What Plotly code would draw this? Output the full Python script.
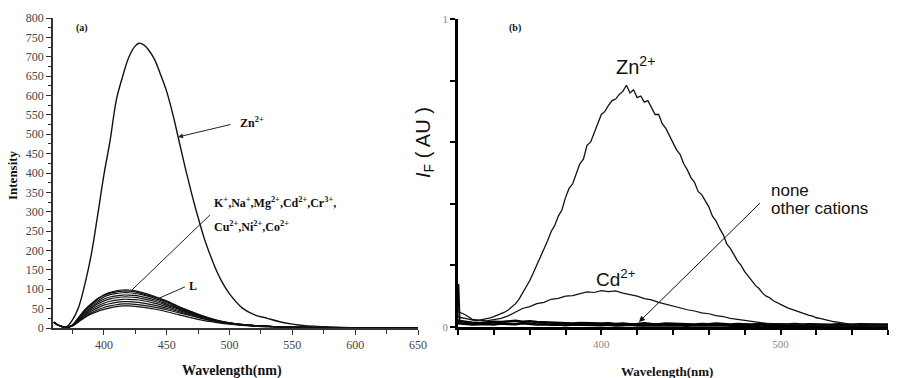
import plotly.graph_objects as go

# ---------------- Panel (a) data ----------------
WL_A = [360, 365, 370, 375, 380, 385, 390, 395, 400, 405, 410, 415, 420, 425, 430,
        440, 450, 460, 470, 480, 490, 500, 520, 540, 560, 580, 600, 650]
C1 = [15, 5, 2, 8, 28, 48, 63, 76, 86, 92, 96, 98, 98, 96, 92, 82, 70, 55, 42, 30, 20, 13, 6, 3, 1.5, 1, 0.5, 0]
C2 = [15, 5, 2, 8, 27, 46, 61, 74, 84, 90, 93, 95, 95, 93, 89, 80, 68, 54, 41, 29, 20, 13, 6, 3, 1.5, 1, 0.5, 0]
C3 = [15, 5, 2, 7, 25, 44, 58, 70, 80, 86, 89, 91, 91, 89, 86, 77, 65, 52, 40, 29, 19, 13, 6, 3, 1.5, 1, 0.5, 0]
C4 = [15, 5, 2, 7, 24, 41, 54, 66, 75, 80, 83, 85, 85, 84, 81, 73, 62, 50, 38, 28, 19, 12, 6, 3, 1.5, 1, 0.5, 0]
C5 = [15, 5, 2, 7, 22, 38, 51, 62, 70, 75, 78, 80, 80, 79, 76, 69, 59, 48, 37, 27, 18, 12, 6, 3, 1.5, 1, 0.5, 0]
C6 = [15, 5, 2, 6, 20, 35, 47, 57, 64, 69, 72, 74, 74, 73, 71, 64, 55, 45, 35, 26, 18, 12, 6, 3, 1.5, 1, 0.5, 0]
C7 = [15, 5, 2, 6, 19, 32, 43, 52, 59, 63, 66, 68, 68, 67, 65, 59, 51, 42, 33, 25, 17, 11, 5, 3, 1.5, 1, 0.5, 0]
C8 = [15, 5, 2, 6, 17, 29, 39, 47, 53, 57, 60, 62, 62, 61, 59, 54, 47, 39, 31, 23, 16, 11, 5, 3, 1.5, 1, 0.5, 0]
C9 = [15, 5, 2, 5, 16, 27, 36, 43, 48, 52, 55, 57, 57, 56, 54, 49, 42, 34, 26, 19, 14, 10, 5, 3, 1.5, 1, 0.5, 0]
SMALL_CURVES = [C1, C2, C3, C4, C5, C6, C7, C8, C9]

ZN_A_WL = [360, 365, 370, 375, 380, 385, 390, 395, 400, 405, 410, 415, 420, 425, 428, 432, 435,
           440, 445, 450, 455, 460, 465, 470, 475, 480, 485, 490, 495, 500, 510, 520, 530,
           540, 550, 560, 570, 580, 600, 625, 650]
ZN_A = [15, 6, 3, 21, 55, 115, 190, 290, 395, 485, 590, 650, 700, 728, 735, 730, 720,
        695, 655, 610, 550, 480, 410, 345, 285, 230, 185, 145, 113, 88, 52, 34, 25,
        16, 10, 6, 4, 3, 1, 0.5, 0]

A_XTICKS = [400, 450, 500, 550, 600, 650]

# ---------------- Panel (b) data ----------------
WL_B = list(range(320, 561, 2))
ZN_B = [.035, .03, .028, .025, .022, .02, .022, .024, .026, .03,
        .034, .038, .042, .048, .055, .065, .075, .09, .11, .13,
        .15, .175, .2, .225, .25, .28, .31, .33, .36, .38,
        .42, .45, .465, .5, .53, .545, .59, .6, .63, .655,
        .69, .7, .72, .735, .74, .755, .765, .785, .76, .77,
        .745, .75, .73, .735, .71, .69, .69, .66, .645, .62,
        .6, .575, .56, .53, .51, .485, .47, .44, .43, .41,
        .39, .36, .345, .32, .3, .27, .255, .235, .215, .2,
        .18, .165, .15, .135, .125, .11, .1, .095, .085, .08,
        .075, .068, .062, .058, .052, .05, .046, .042, .038, .035,
        .03, .028, .025, .022, .02, .017, .016, .013, .012, .01,
        .009, .008, .008, .007, .006, .006, .005, .005, .004, .004,
        .004]

WL_C = list(range(320, 561, 4))
CD_B = [.05, .04, .025, .022, .02, .024, .028, .036, .048, .06,
        .066, .076, .08, .09, .093, .1, .102, .108, .114, .112,
        .118, .115, .117, .11, .106, .1, .092, .088, .08, .074,
        .066, .062, .056, .052, .046, .043, .037, .034, .028, .025,
        .021, .018, .015, .012, .011, .009, .008, .007, .006, .005,
        .005, .004, .004, .003, .003, .003, .002, .002, .002, .002,
        .002]
BASE1 = [.02, .016, .014, .013, .015, .017, .016, .018, .02, .017,
         .019, .016, .015, .013, .014, .012, .011, .013, .012, .01,
         .011, .012, .01, .011, .009, .01, .012, .01, .009, .011,
         .01, .009, .01, .008, .01, .009, .011, .009, .008, .01,
         .009, .008, .01, .009, .008, .009, .008, .01, .008, .009,
         .008, .009, .007, .009, .008, .007, .009, .008, .007, .008,
         .008]
BASE2 = [.012, .01, .008, .009, .01, .008, .011, .01, .009, .012,
         .01, .008, .009, .007, .008, .006, .008, .007, .006, .007,
         .006, .007, .005, .006, .007, .005, .006, .005, .006, .005,
         .006, .005, .004, .006, .005, .004, .005, .006, .004, .005,
         .004, .005, .004, .005, .004, .003, .005, .004, .003, .004,
         .003, .004, .003, .004, .003, .003, .004, .003, .003, .003,
         .003]
SPIKE_WL = [320.2, 320.5, 320.9]
SPIKE_V = [0.14, 0.06, 0.012]

B_XTICKS = list(range(320, 561, 20))
B_XTEXT = ["400" if v == 400 else ("500" if v == 500 else "") for v in B_XTICKS]
B_YTICKS = [0, 0.2, 0.4, 0.6, 0.8, 1.0]
B_YTEXT = ["0", "", "", "", "", "1"]

SERIF = "Liberation Serif"
SANS = "Liberation Sans"

fig = go.Figure()

for c in SMALL_CURVES:
    fig.add_trace(go.Scatter(x=WL_A, y=c, mode="lines", line=dict(color="#111", width=1.2, shape="spline"),
                             xaxis="x", yaxis="y", showlegend=False, hoverinfo="skip"))
fig.add_trace(go.Scatter(x=ZN_A_WL, y=ZN_A, mode="lines", line=dict(color="#111", width=1.4, shape="spline"),
                         xaxis="x", yaxis="y", showlegend=False))

fig.add_trace(go.Scatter(x=WL_C, y=BASE1, mode="lines", line=dict(color="#000", width=2.5),
                         xaxis="x2", yaxis="y2", showlegend=False))
fig.add_trace(go.Scatter(x=WL_C, y=BASE2, mode="lines", line=dict(color="#000", width=2.5),
                         xaxis="x2", yaxis="y2", showlegend=False))
fig.add_trace(go.Scatter(x=SPIKE_WL, y=SPIKE_V, mode="lines", line=dict(color="#000", width=2),
                         xaxis="x2", yaxis="y2", showlegend=False))
fig.add_trace(go.Scatter(x=WL_C, y=CD_B, mode="lines", line=dict(color="#111", width=1.2),
                         xaxis="x2", yaxis="y2", showlegend=False))
fig.add_trace(go.Scatter(x=WL_B, y=ZN_B, mode="lines", line=dict(color="#111", width=1.3),
                         xaxis="x2", yaxis="y2", showlegend=False))

W, H = 897, 378
def px(x): return x / W
def py(y): return (H - y) / H

tickfont_a = dict(family=SERIF, size=12, color="#444")
tickfont_b = dict(family=SERIF, size=11, color="#888")

fig.update_layout(
    width=W, height=H, margin=dict(l=0, r=0, t=0, b=0, autoexpand=False),
    paper_bgcolor="white", plot_bgcolor="white", showlegend=False,
    xaxis=dict(domain=[px(53), px(418)], range=[359.5, 650], tickvals=A_XTICKS, automargin=False,
               showline=True, linecolor="#333", linewidth=1.5, ticks="outside", ticklen=5,
               tickwidth=1, tickcolor="#333", minor=dict(ticks="outside", ticklen=4, dtick=25, tick0=0, tickcolor="#333"),
               showgrid=False, zeroline=False, tickfont=tickfont_a, anchor="y"),
    yaxis=dict(domain=[py(328), py(18)], range=[0, 800], dtick=50, tick0=0, automargin=False,
               showline=True, linecolor="#333", linewidth=1.5, ticks="outside", ticklen=5,
               tickwidth=1, tickcolor="#333", minor=dict(ticks="outside", ticklen=3, dtick=25, tick0=0, tickcolor="#333"),
               showgrid=False, zeroline=False, tickfont=tickfont_a, anchor="x"),
    xaxis2=dict(domain=[px(458), px(888)], range=[320, 560], tickvals=B_XTICKS, ticktext=B_XTEXT, automargin=False,
                showline=True, linecolor="#000", linewidth=3, ticks="outside", ticklen=5,
                tickwidth=1.5, tickcolor="#000", showgrid=False, zeroline=False,
                tickfont=tickfont_b, anchor="y2"),
    yaxis2=dict(domain=[py(327), py(19)], range=[0, 1], tickvals=B_YTICKS, ticktext=B_YTEXT, automargin=False,
                showline=True, linecolor="#000", linewidth=2.5, ticks="outside", ticklen=5,
                tickwidth=1.5, tickcolor="#000", showgrid=False, zeroline=False,
                tickfont=tickfont_b, anchor="x2"),
)

ann = []
def text(x, y, t, family, size, xanchor="center", angle=0, color="#111"):
    ann.append(dict(x=px(x), y=py(y), xref="paper", yref="paper", text=t, showarrow=False,
                    xanchor=xanchor, yanchor="middle", textangle=angle, borderpad=0,
                    font=dict(family=family, size=size, color=color)))

text(82, 28, "<b>(a)</b>", SERIF, 10)
text(515, 28, "<b>(b)</b>", SERIF, 10)
text(252, 123, "<b>Zn<sup>2+</sup></b>", SERIF, 12)
text(213, 203, "<b>K<sup>+</sup>,Na<sup>+</sup>,Mg<sup>2+</sup>,Cd<sup>2+</sup>,Cr<sup>3+</sup>,</b>", SERIF, 12, xanchor="left")
text(213, 227, "<b>Cu<sup>2+</sup>,Ni<sup>2+</sup>,Co<sup>2+</sup></b>", SERIF, 12, xanchor="left")
text(193, 286, "<b>L</b>", SERIF, 12)
text(13, 175, "<b>Intensity</b>", SERIF, 13, angle=-90)
text(232, 371, "<b>Wavelength(nm)</b>", SERIF, 14)
text(667, 371, "<b>Wavelength(nm)</b>", SERIF, 13)
text(635, 65, "Zn<sup>2+</sup>", SANS, 20)
text(616, 278, "Cd<sup>2+</sup>", SANS, 19)
text(770, 190, "none", SANS, 17, xanchor="left")
text(770, 208, "other cations", SANS, 17, xanchor="left")
text(425, 143, "<i>I</i><sub>F</sub> ( AU )", SANS, 20, angle=-90)

# arrows
ann.append(dict(x=459, y=493, ax=502, ay=526, xref="x", yref="y", axref="x", ayref="y",
                text="", showarrow=True, arrowhead=2, arrowsize=1, arrowwidth=1, arrowcolor="#222"))
ann.append(dict(x=421, y=0.016, ax=489.4, ay=0.407, xref="x2", yref="y2", axref="x2", ayref="y2",
                text="", showarrow=True, arrowhead=2, arrowsize=1.2, arrowwidth=1, arrowcolor="#111"))
fig.update_layout(annotations=ann)

fig.update_layout(shapes=[
    dict(type="line", xref="x", yref="y", x0=484.4, y0=291.6, x1=422.3, y1=98, line=dict(color="#222", width=1)),
    dict(type="line", xref="x", yref="y", x0=464.5, y0=106, x1=444, y1=77, line=dict(color="#222", width=1)),
])

fig.write_html("out.html", config={"displayModeBar": False},
               post_script="document.body.style.margin='0px';")
